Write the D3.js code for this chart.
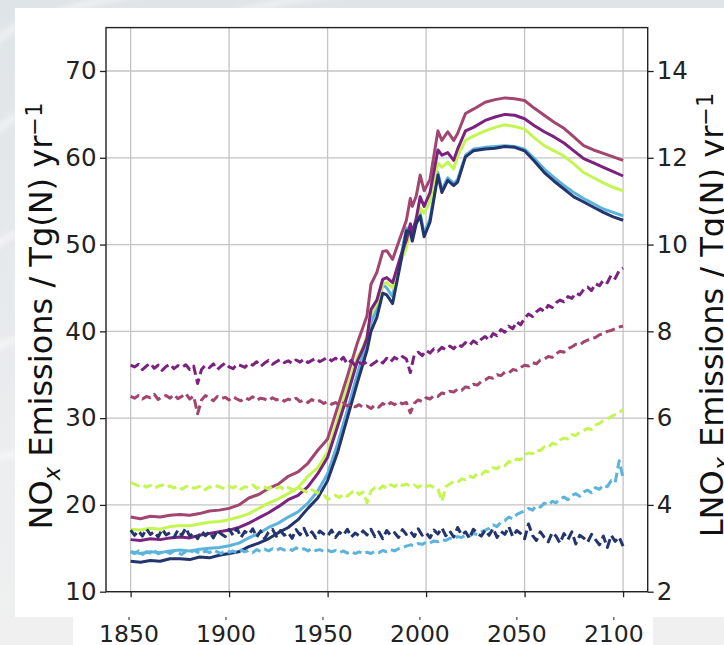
<!DOCTYPE html>
<html>
<head>
<meta charset="utf-8">
<script src="https://cdn.jsdelivr.net/npm/d3@7"></script>
<style>
  html, body { margin: 0; padding: 0; background: #f0f0f0; overflow: hidden; }
  svg { display: block; font-family: "DejaVu Sans", sans-serif; }
</style>
</head>
<body>
<div id="chart"></div>
<script>
// NOx emissions (left axis, Tg(N)/yr)
const noxYears = [1850, 1855, 1860, 1865, 1870, 1875, 1880, 1885, 1890, 1895,
  1900, 1905, 1910, 1915, 1920, 1925, 1930, 1935, 1940, 1945,
  1950, 1955, 1960, 1965, 1968, 1970, 1972, 1975, 1978, 1980,
  1983, 1987, 1990, 1992, 1993, 1995, 1997, 1999, 2002, 2006,
  2008, 2011, 2014, 2016, 2020, 2024, 2030, 2035, 2040, 2045,
  2050, 2055, 2060, 2065, 2070, 2075, 2080, 2085, 2090, 2095, 2100];

const noxMauve = [18.6, 18.4, 18.7, 18.6, 18.8, 18.9, 18.8, 19.0, 19.3, 19.4,
  19.6, 20.0, 20.8, 21.2, 21.9, 22.4, 23.3, 23.8, 24.8, 26.3,
  27.6, 31.2, 34.8, 38.6, 40.5, 41.8, 45.4, 46.8, 49.2, 49.3,
  48.3, 50.9, 52.8, 55.3, 54.4, 55.6, 58.0, 56.2, 57.5, 63.1,
  62.0, 63.0, 62.0, 62.8, 65.1, 65.6, 66.4, 66.7, 66.9, 66.8,
  66.6, 65.7, 64.9, 64.1, 63.4, 62.4, 61.4, 60.9, 60.5, 60.1, 59.7];

const noxPurple = [16.0, 15.9, 16.1, 16.0, 16.2, 16.3, 16.2, 16.5, 16.7, 16.9,
  17.1, 17.4, 17.9, 18.5, 19.1, 19.8, 20.6, 21.1, 22.1, 23.6,
  25.5, 29.0, 32.6, 36.5, 38.0, 39.2, 42.5, 43.6, 46.0, 46.2,
  45.6, 48.6, 50.5, 52.4, 51.4, 53.0, 55.5, 54.4, 56.0, 60.9,
  60.3, 60.6, 59.7, 61.0, 63.1, 63.5, 64.3, 64.7, 65.0, 64.9,
  64.5, 63.7, 63.0, 62.4, 61.7, 60.8, 59.9, 59.4, 58.9, 58.4, 57.9];

const noxLime = [17.2, 17.1, 17.3, 17.2, 17.5, 17.6, 17.6, 17.8, 18.0, 18.1,
  18.3, 18.6, 19.0, 19.6, 20.2, 20.7, 21.3, 22.0, 23.3, 24.3,
  26.1, 29.8, 33.6, 37.0, 38.2, 39.5, 42.0, 43.2, 45.4, 45.6,
  45.0, 48.0, 49.6, 51.8, 51.0, 52.5, 54.2, 53.6, 55.0, 59.4,
  58.9, 59.5, 58.7, 60.2, 62.0, 62.5, 63.1, 63.5, 63.8, 63.6,
  63.3, 62.3, 61.4, 60.8, 60.2, 59.3, 58.3, 57.7, 57.1, 56.6, 56.2];

const noxLightBlue = [14.6, 14.4, 14.6, 14.5, 14.7, 14.8, 14.7, 14.9, 15.0, 15.1,
  15.3, 15.6, 16.2, 16.7, 17.4, 17.9, 18.6, 19.2, 20.2, 21.6,
  23.6, 27.0, 30.9, 35.0, 37.3, 38.8, 41.0, 42.6, 45.4, 45.0,
  44.0, 48.4, 51.9, 51.8, 50.9, 52.8, 53.6, 51.3, 53.0, 58.3,
  56.3, 57.7, 57.0, 57.5, 60.3, 61.0, 61.2, 61.3, 61.4, 61.3,
  61.0, 59.9, 58.7, 57.7, 56.8, 56.0, 55.3, 54.7, 54.1, 53.7, 53.3];

const noxNavy = [13.5, 13.4, 13.6, 13.5, 13.8, 13.8, 13.7, 14.0, 13.9, 14.2,
  14.4, 14.6, 15.2, 15.6, 16.1, 16.8, 17.4, 18.3, 19.6, 20.8,
  22.8, 26.0, 30.0, 34.0, 36.3, 37.8, 40.0, 41.6, 44.4, 44.2,
  43.2, 47.8, 51.6, 51.4, 50.4, 52.4, 53.3, 50.9, 52.6, 58.0,
  56.0, 57.4, 56.8, 57.2, 60.1, 60.8, 61.0, 61.1, 61.3, 61.2,
  60.8, 59.6, 58.3, 57.3, 56.4, 55.5, 54.9, 54.3, 53.7, 53.2, 52.8];

// lightning NOx (right axis, Tg(N)/yr), every second year 1850-2100
const lnoxYears = d3.range(1850, 2101, 2);

const lnoxPurple = [7.22, 7.18, 7.24, 7.12, 7.20, 7.26, 7.15, 7.22, 7.10, 7.19,
  7.24, 7.14, 7.21, 7.17, 7.23, 7.12, 7.20, 6.80, 7.12, 7.22,
  7.16, 7.25, 7.12, 7.20, 7.27, 7.18, 7.14, 7.24, 7.21, 7.17,
  7.26, 7.22, 7.30, 7.19, 7.27, 7.33, 7.24, 7.30, 7.35, 7.28,
  7.32, 7.26, 7.34, 7.29, 7.36, 7.28, 7.33, 7.38, 7.30, 7.35,
  7.40, 7.32, 7.38, 7.31, 7.40, 7.25, 7.33, 7.20, 7.28, 7.24,
  7.30, 7.22, 7.28, 7.35, 7.27, 7.38, 7.30, 7.40, 7.34, 7.42,
  7.36, 7.05, 7.46, 7.52, 7.44, 7.56, 7.50, 7.60, 7.54, 7.63,
  7.58, 7.66, 7.60, 7.70, 7.65, 7.74, 7.68, 7.78, 7.72, 7.82,
  7.88, 7.80, 7.95, 7.90, 8.04, 7.98, 8.12, 8.06, 8.22, 8.15,
  8.30, 8.40, 8.34, 8.45, 8.52, 8.46, 8.60, 8.55, 8.66, 8.72,
  8.68, 8.80, 8.76, 8.88, 8.84, 8.96, 9.02, 8.94, 9.10, 9.05,
  9.18, 9.12, 9.30, 9.22, 9.40, 9.46];

const lnoxMauve = [6.50, 6.46, 6.52, 6.44, 6.50, 6.47, 6.55, 6.43, 6.49, 6.52,
  6.46, 6.54, 6.45, 6.50, 6.57, 6.44, 6.51, 6.10, 6.42, 6.52,
  6.47, 6.40, 6.50, 6.45, 6.48, 6.42, 6.49, 6.44, 6.40, 6.47,
  6.43, 6.49, 6.41, 6.46, 6.44, 6.40, 6.47, 6.42, 6.45, 6.39,
  6.44, 6.40, 6.46, 6.38, 6.42, 6.36, 6.43, 6.37, 6.40, 6.34,
  6.38, 6.32, 6.36, 6.30, 6.35, 6.28, 6.33, 6.26, 6.31, 6.25,
  6.28, 6.22, 6.30, 6.25, 6.34, 6.28, 6.36, 6.31, 6.38, 6.33,
  6.36, 6.12, 6.34, 6.42, 6.38, 6.47, 6.44, 6.52, 6.50, 6.58,
  6.56, 6.62, 6.60, 6.67, 6.64, 6.72, 6.70, 6.78, 6.76, 6.84,
  6.88, 6.94, 6.92, 7.00, 6.98, 7.06, 7.04, 7.12, 7.10, 7.17,
  7.22, 7.20, 7.28, 7.25, 7.34, 7.36, 7.42, 7.40, 7.48, 7.54,
  7.52, 7.60, 7.64, 7.70, 7.68, 7.76, 7.80, 7.84, 7.86, 7.92,
  7.95, 8.00, 8.02, 8.06, 8.10, 8.12];

const lnoxLime = [4.52, 4.48, 4.44, 4.47, 4.41, 4.45, 4.38, 4.43, 4.46, 4.40,
  4.44, 4.39, 4.43, 4.36, 4.42, 4.45, 4.38, 4.41, 4.44, 4.35,
  4.42, 4.38, 4.44, 4.40, 4.37, 4.43, 4.39, 4.45, 4.36, 4.42,
  4.40, 4.46, 4.38, 4.43, 4.41, 4.36, 4.44, 4.39, 4.42, 4.34,
  4.40, 4.36, 4.31, 4.38, 4.33, 4.28, 4.35, 4.30, 4.26, 4.24,
  4.12, 4.18, 4.22, 4.17, 4.25, 4.20, 4.28, 4.34, 4.24, 4.30,
  4.05, 4.32, 4.40, 4.35, 4.44, 4.38, 4.47, 4.42, 4.50, 4.45,
  4.48, 4.43, 4.46, 4.40, 4.47, 4.42, 4.45, 4.40, 4.38, 4.08,
  4.42, 4.48, 4.54, 4.52, 4.60, 4.58, 4.66, 4.63, 4.72, 4.70,
  4.78, 4.76, 4.86, 4.83, 4.92, 4.90, 5.00, 4.97, 5.06, 5.04,
  5.16, 5.20, 5.18, 5.27, 5.25, 5.34, 5.32, 5.42, 5.40, 5.50,
  5.54, 5.52, 5.62, 5.60, 5.68, 5.72, 5.76, 5.74, 5.84, 5.88,
  5.94, 5.98, 6.04, 6.08, 6.12, 6.20];

const lnoxLightBlue = [2.92, 2.88, 2.94, 2.86, 2.92, 2.89, 2.95, 2.87, 2.91, 2.93,
  2.88, 2.94, 2.90, 2.86, 2.93, 2.89, 2.95, 2.91, 2.87, 2.94,
  2.90, 2.96, 2.92, 2.88, 2.95, 2.91, 2.94, 2.89, 2.96, 2.92,
  2.95, 2.90, 2.97, 2.93, 2.98, 2.94, 2.99, 2.95, 3.00, 2.96,
  2.99, 2.95, 3.01, 2.96, 2.99, 2.94, 3.00, 2.95, 2.97, 2.93,
  2.96, 2.92, 2.95, 2.90, 2.94, 2.89, 2.93, 2.88, 2.92, 2.87,
  2.91, 2.88, 2.93, 2.90, 2.95, 2.92, 2.97, 2.94, 2.99, 3.02,
  3.05, 3.08, 3.06, 3.11, 3.09, 3.14, 3.12, 3.17, 3.15, 3.20,
  3.18, 3.23, 3.21, 3.27, 3.25, 3.30, 3.28, 3.34, 3.32, 3.38,
  3.42, 3.46, 3.54, 3.50, 3.60, 3.64, 3.72, 3.68, 3.78, 3.82,
  3.86, 3.92, 3.88, 3.98, 3.95, 4.04, 4.00, 4.08, 4.05, 4.14,
  4.18, 4.12, 4.22, 4.26, 4.20, 4.30, 4.34, 4.28, 4.40, 4.36,
  4.46, 4.42, 4.56, 4.52, 5.02, 4.62];

const lnoxNavy = [3.42, 3.30, 3.40, 3.28, 3.45, 3.32, 3.38, 3.26, 3.44, 3.31,
  3.36, 3.25, 3.42, 3.30, 3.47, 3.28, 3.35, 3.22, 3.40, 3.29,
  3.38, 3.24, 3.41, 3.33, 3.27, 3.44, 3.30, 3.46, 3.25, 3.39,
  3.32, 3.45, 3.26, 3.40, 3.22, 3.37, 3.44, 3.28, 3.41, 3.30,
  3.36, 3.23, 3.43, 3.31, 3.46, 3.27, 3.38, 3.24, 3.40, 3.33,
  3.28, 3.42, 3.25, 3.37, 3.30, 3.44, 3.26, 3.35, 3.29, 3.40,
  3.31, 3.44, 3.27, 3.38, 3.22, 3.41, 3.30, 3.36, 3.25, 3.43,
  3.32, 3.39, 3.27, 3.45, 3.30, 3.36, 3.24, 3.42, 3.33, 3.47,
  3.29, 3.40, 3.26, 3.48, 3.31, 3.38, 3.23, 3.44, 3.35, 3.28,
  3.42, 3.30, 3.46, 3.25, 3.39, 3.32, 3.50, 3.27, 3.41, 3.34,
  3.22, 3.56, 3.30, 3.18, 3.38, 3.25, 3.15, 3.36, 3.28, 3.12,
  3.34, 3.20, 3.38, 3.10, 3.30, 3.24, 3.14, 3.32, 3.20, 3.08,
  3.28, 3.02, 3.30, 3.16, 3.26, 3.05];

const xTicks = [1850, 1900, 1950, 2000, 2050, 2100];
const leftTicks = [10, 20, 30, 40, 50, 60, 70];
const rightTicks = [2, 4, 6, 8, 10, 12, 14];

const colors = {
  navy: '#23356c',
  lightBlue: '#5cb4dc',
  lime: '#c4f652',
  purple: '#7b2281',
  mauve: '#a2456f',
};

const noxSeries = [
  { values: noxLightBlue, color: colors.lightBlue },
  { values: noxLime, color: colors.lime },
  { values: noxPurple, color: colors.purple },
  { values: noxMauve, color: colors.mauve },
  { values: noxNavy, color: colors.navy },
];
const lnoxSeries = [
  { values: lnoxPurple, color: colors.purple },
  { values: lnoxMauve, color: colors.mauve },
  { values: lnoxLime, color: colors.lime },
  { values: lnoxLightBlue, color: colors.lightBlue },
  { values: lnoxNavy, color: colors.navy },
];

const width = 724;
const height = 645;
const plot = { left: 106, right: 647.7, top: 27.6, bottom: 591.7 };

const svg = d3.select('#chart')
  .append('svg')
  .attr('width', width)
  .attr('height', height);

// page background with a faint blurred streak pattern in the corner
const defs = svg.append('defs');
defs.append('filter').attr('id', 'blur')
  .append('feGaussianBlur').attr('stdDeviation', 3);
const bgGrad = defs.append('linearGradient').attr('id', 'bgGrad')
  .attr('x1', 0).attr('y1', 0).attr('x2', 0).attr('y2', 1);
bgGrad.append('stop').attr('offset', '0%').attr('stop-color', '#dfe4e8');
bgGrad.append('stop').attr('offset', '75%').attr('stop-color', '#eceeef');
bgGrad.append('stop').attr('offset', '100%').attr('stop-color', '#f0f0f0');

svg.append('rect').attr('width', width).attr('height', height).attr('fill', 'url(#bgGrad)');
const streaks = svg.append('g').attr('filter', 'url(#blur)')
  .attr('stroke', '#ffffff').attr('fill', 'none').attr('stroke-width', 4).attr('opacity', 0.8);
[[-20, 60, 30, 20], [-20, 150, 30, 110], [-20, 260, 30, 230], [-20, 360, 25, 340],
 [60, 12, 200, -10], [240, 12, 400, -8], [-20, 470, 25, 455]]
  .forEach(([x1, y1, x2, y2]) => {
    streaks.append('path').attr('d', `M${x1},${y1} Q${(x1 + x2) / 2},${(y1 + y2) / 2 - 12} ${x2},${y2}`);
  });

// figure panel and the strip holding the year labels
svg.append('rect').attr('x', 15).attr('y', 8).attr('width', width - 15).attr('height', 609).attr('fill', '#fff');
svg.append('rect').attr('x', 73).attr('y', 617).attr('width', 580).attr('height', 28).attr('fill', '#fff');

const x = d3.scaleLinear().domain([1837.5, 2112.5]).range([plot.left, plot.right]);
const yLeft = d3.scaleLinear().domain([10, 75]).range([plot.bottom, plot.top]);
const yRight = d3.scaleLinear().domain([2, 15]).range([plot.bottom, plot.top]);

// grid
const grid = svg.append('g').attr('stroke', '#c4c4c4').attr('stroke-width', 1.3);
grid.selectAll('.vgrid').data(xTicks).join('line')
  .attr('x1', (d) => x(d)).attr('x2', (d) => x(d))
  .attr('y1', plot.top).attr('y2', plot.bottom);
grid.selectAll('.hgrid').data(leftTicks).join('line')
  .attr('x1', plot.left).attr('x2', plot.right)
  .attr('y1', (d) => yLeft(d)).attr('y2', (d) => yLeft(d));

const clip = defs.append('clipPath').attr('id', 'plotClip');
clip.append('rect').attr('x', plot.left).attr('y', plot.top)
  .attr('width', plot.right - plot.left).attr('height', plot.bottom - plot.top);

const lines = svg.append('g').attr('clip-path', 'url(#plotClip)').attr('fill', 'none');

const noxLine = d3.line()
  .x((d, i) => x(noxYears[i]))
  .y((d) => yLeft(d));
const lnoxLine = d3.line()
  .x((d, i) => x(lnoxYears[i]))
  .y((d) => yRight(d));

lines.selectAll('.nox').data(noxSeries).join('path')
  .attr('class', 'nox')
  .attr('d', (d) => noxLine(d.values))
  .attr('stroke', (d) => d.color)
  .attr('stroke-width', 3)
  .attr('stroke-linejoin', 'round');

lines.selectAll('.lnox').data(lnoxSeries).join('path')
  .attr('class', 'lnox')
  .attr('d', (d) => lnoxLine(d.values))
  .attr('stroke', (d) => d.color)
  .attr('stroke-width', 3)
  .attr('stroke-dasharray', '9.5,4.5')
  .attr('stroke-linejoin', 'round');

// axes
const tickFont = '24.5px';
const styleAxis = (g) => {
  g.select('.domain').remove();
  g.selectAll('.tick line').attr('stroke', '#222').attr('stroke-width', 1.3);
  g.selectAll('.tick text').attr('fill', '#222').style('font-size', tickFont)
    .style('font-family', '"DejaVu Sans", sans-serif');
};

svg.append('g')
  .attr('transform', `translate(0,${plot.bottom})`)
  .call(d3.axisBottom(x).tickValues(xTicks).tickSize(5.5).tickFormat(''))
  .call(styleAxis);

svg.append('g')
  .attr('transform', `translate(${plot.left},0)`)
  .call(d3.axisLeft(yLeft).tickValues(leftTicks).tickSize(6).tickPadding(3.5))
  .call(styleAxis);

svg.append('g')
  .attr('transform', `translate(${plot.right},0)`)
  .call(d3.axisRight(yRight).tickValues(rightTicks).tickSize(6).tickPadding(3))
  .call(styleAxis);

svg.append('rect')
  .attr('x', plot.left).attr('y', plot.top)
  .attr('width', plot.right - plot.left).attr('height', plot.bottom - plot.top)
  .attr('fill', 'none').attr('stroke', '#222').attr('stroke-width', 1.4);

// year labels in the lower strip
const xStrip = d3.scaleLinear().domain([1850, 2100]).range([128.5, 613.3]);
svg.append('g')
  .attr('transform', 'translate(0,617)')
  .call(d3.axisBottom(xStrip).tickValues(xTicks).tickSize(3).tickPadding(5.5).tickFormat(d3.format('d')))
  .call(styleAxis)
  .call((g) => g.selectAll('.tick line').attr('stroke', '#555'))
  .call((g) => g.selectAll('.tick text').style('font-size', '23.5px'));

// axis titles
const addTitle = (tx, ty, prefix) => {
  const t = svg.append('text')
    .attr('transform', `translate(${tx},${ty}) rotate(-90)`)
    .attr('text-anchor', 'middle')
    .attr('fill', '#111')
    .style('font-size', '32px');
  t.append('tspan').text(prefix);
  t.append('tspan').attr('dy', 7.5).style('font-size', '22.4px').style('font-style', 'italic').text('x');
  t.append('tspan').attr('dy', -7.5).text(' Emissions / Tg(N) yr');
  t.append('tspan').attr('dy', -10).style('font-size', '22.4px').text('\u22121');
};
addTitle(52, 316, 'NO');
addTitle(722.5, 315, 'LNO');
</script>
</body>
</html>
